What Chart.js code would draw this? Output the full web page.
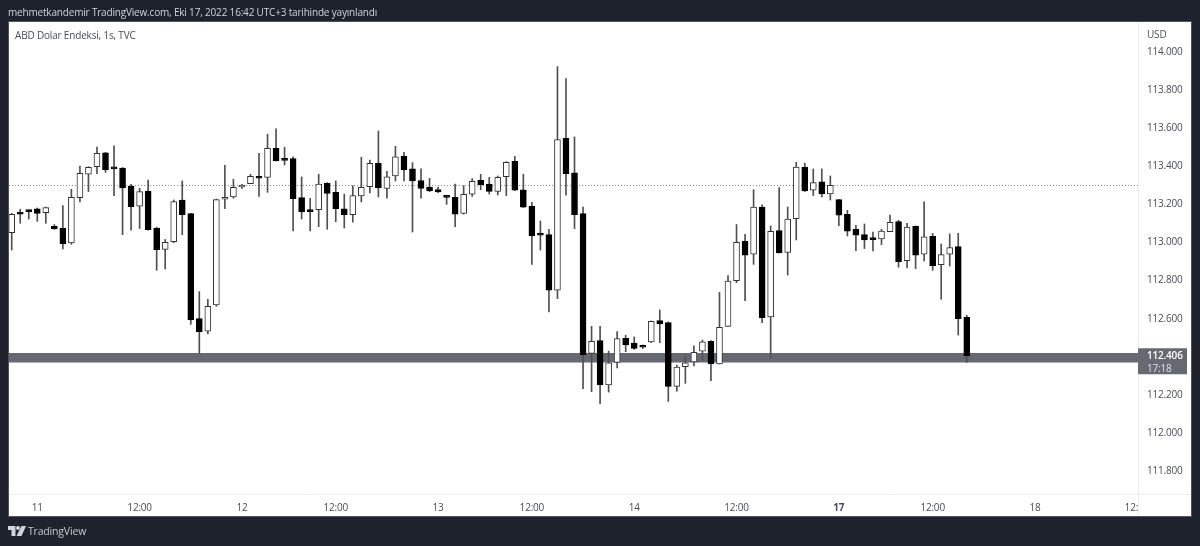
<!DOCTYPE html>
<html><head><meta charset="utf-8">
<script src="https://cdn.jsdelivr.net/npm/chart.js@4"></script>
<style>
html,body{margin:0;padding:0;background:#1e222d;width:1200px;height:546px;overflow:hidden}
#panel{position:absolute;left:9px;top:22px;width:1182px;height:494px;background:#fff;box-shadow:0 0 0 1px #50535e}
canvas{position:absolute;left:0;top:0}
.t{position:absolute;white-space:nowrap;font-family:"Open Sans",sans-serif;letter-spacing:-0.18px}
</style></head><body>
<div id="panel"></div>
<canvas id="c" width="1200" height="546"></canvas>
<div class="t" style="left:8px;top:5px;font-size:10px;color:#d1d4dc">mehmetkandemir TradingView.com, Eki 17, 2022 16:42 UTC+3 tarihinde yayınlandı</div>
<div class="t" style="left:15px;top:28px;font-size:10px;color:#4a4d57">ABD Dolar Endeksi, 1s, TVC</div>
<div class="t" style="left:1147px;top:27px;font-size:10px;color:#4a4d57">USD</div>
<svg style="position:absolute;left:8px;top:526px" width="18" height="11" viewBox="0 0 36 22"><path fill="#d1d4dc" d="M0 0H15V20H7V8H0Z"/><circle cx="20" cy="4" r="4" fill="#d1d4dc"/><path fill="#d1d4dc" d="M27 0H36L27 20H17Z"/></svg>
<div class="t" style="left:28px;top:524px;font-size:10.5px;color:#c8cad0">TradingView</div>
<script>
const opens=[113.051,113.160,113.167,113.176,113.157,113.085,113.074,112.997,113.235,113.358,113.398,113.470,113.389,113.391,113.295,113.191,113.270,113.076,112.964,113.004,113.223,113.151,112.600,112.535,112.672,113.227,113.239,113.291,113.309,113.345,113.342,113.494,113.436,113.440,113.235,113.169,113.172,113.311,113.263,113.176,113.146,113.244,113.293,113.415,113.283,113.349,113.454,113.387,113.325,113.291,113.277,113.239,113.237,113.153,113.253,113.326,113.307,113.268,113.345,113.426,113.276,113.190,113.041,113.041,112.750,113.547,113.366,113.151,112.418,112.485,112.252,112.371,112.497,112.472,112.457,112.478,112.590,112.579,112.245,112.348,112.373,112.429,112.481,112.362,112.560,112.800,113.006,112.938,113.186,112.609,113.062,112.948,113.125,113.395,113.274,113.318,113.255,113.225,113.148,113.069,113.041,113.020,113.018,113.057,113.109,112.905,113.085,112.938,113.032,112.884,112.938,112.978,112.607];
const highs=[113.153,113.174,113.170,113.181,113.186,113.094,113.193,113.279,113.401,113.398,113.500,113.473,113.507,113.393,113.305,113.284,113.328,113.080,113.016,113.223,113.323,113.153,112.742,112.702,113.228,113.405,113.331,113.305,113.358,113.468,113.568,113.596,113.500,113.450,113.344,113.232,113.358,113.314,113.323,113.254,113.298,113.447,113.433,113.585,113.373,113.505,113.473,113.419,113.387,113.337,113.291,113.239,113.307,113.298,113.335,113.358,113.342,113.349,113.424,113.452,113.358,113.211,113.113,113.069,113.923,113.860,113.554,113.186,112.560,112.560,112.430,112.532,112.513,112.504,112.462,112.588,112.646,112.583,112.357,112.399,112.458,112.488,112.485,112.738,112.826,113.094,113.043,113.277,113.197,113.087,113.288,113.186,113.421,113.416,113.386,113.386,113.349,113.227,113.169,113.090,113.097,113.055,113.069,113.144,113.116,113.101,113.087,113.213,113.048,112.992,113.045,113.048,112.618];
const lows=[112.960,113.101,113.123,113.111,113.101,113.069,112.966,112.990,113.213,113.267,113.361,113.368,113.246,113.041,113.065,113.073,113.065,112.854,112.861,112.999,113.041,112.570,112.418,112.520,112.665,113.178,113.232,113.283,113.309,113.242,113.263,113.428,113.407,113.060,113.123,113.060,113.083,113.069,113.109,113.076,113.107,113.213,113.260,113.239,113.232,113.323,113.323,113.055,113.232,113.267,113.261,113.200,113.083,113.149,113.242,113.277,113.254,113.249,113.246,113.272,113.183,112.885,112.960,112.635,112.705,113.248,113.073,112.233,112.217,112.154,112.215,112.341,112.427,112.439,112.443,112.474,112.474,112.166,112.219,112.261,112.352,112.383,112.275,112.362,112.560,112.789,112.695,112.885,112.579,112.392,112.945,112.829,113.013,113.267,113.246,113.239,113.223,113.088,113.034,112.957,112.968,112.955,112.989,113.057,112.870,112.866,112.863,112.903,112.854,112.702,112.876,112.514,112.371];
const closes=[113.148,113.149,113.162,113.153,113.183,113.071,112.994,113.237,113.363,113.394,113.468,113.382,113.386,113.286,113.188,113.267,113.067,112.962,113.001,113.214,113.146,112.593,112.532,112.665,113.225,113.237,113.289,113.295,113.347,113.337,113.494,113.428,113.431,113.230,113.160,113.162,113.307,113.258,113.178,113.146,113.246,113.289,113.415,113.286,113.345,113.450,113.381,113.323,113.284,113.270,113.265,113.237,113.149,113.253,113.321,113.302,113.268,113.342,113.421,113.274,113.185,113.034,113.038,112.750,113.540,113.361,113.146,112.411,112.481,112.252,112.369,112.495,112.462,112.444,112.450,112.586,112.572,112.245,112.346,112.369,112.423,112.478,112.362,112.555,112.798,113.001,112.934,113.186,112.605,113.059,112.945,113.123,113.395,113.270,113.314,113.255,113.300,113.143,113.059,113.038,113.013,113.015,113.060,113.106,112.899,113.081,112.934,113.029,112.878,112.936,112.973,112.600,112.406];
const priceLabels=[111.8,112.0,112.2,112.6,112.8,113.0,113.2,113.4,113.6,113.8,114.0];
const timeTickIndex=[3,15,27,38,50,61,73,85,97,108,120,131.3];
const timeTickLabels=['11','12:00','12','12:00','13','12:00','14','12:00','17','12:00','18','12:'];
const previousClose=113.30, lastPrice=112.406, bandTop=112.42, bandBottom=112.37;
const lastLabel='112.406', countdown='17:18';

const FONT='"Open Sans",sans-serif';
const idx=opens.map((_,i)=>i);
const overlay={id:'overlay',
 beforeDraw(ch){ch.ctx.letterSpacing='-0.2px';},
 beforeDatasetsDraw(ch){const {ctx,chartArea:a,scales:{y}}=ch;ctx.save();
  const t=y.getPixelForValue(bandTop),b=y.getPixelForValue(bandBottom);
  ctx.fillStyle='#666972';ctx.fillRect(a.left,t,a.right-a.left,b-t);
  const p=Math.round(y.getPixelForValue(previousClose))+.5;
  ctx.strokeStyle='#8a8d94';ctx.lineWidth=1;ctx.setLineDash([1,2]);
  ctx.beginPath();ctx.moveTo(a.left,p);ctx.lineTo(a.right,p);ctx.stroke();ctx.restore();},
 afterDraw(ch){const {ctx,chartArea:a,scales:{y}}=ch;ctx.save();
  const m=(y.getPixelForValue(bandTop)+y.getPixelForValue(bandBottom))/2;
  ctx.fillStyle='#666972';ctx.fillRect(a.right,m-9.5,49,26);
  ctx.textBaseline='middle';ctx.textAlign='left';
  ctx.font='600 10px '+FONT;ctx.fillStyle='#fff';ctx.fillText(lastLabel,a.right+9,m-1.5);
  ctx.font='10px '+FONT;ctx.fillStyle='#e0e2e8';ctx.fillText(countdown,a.right+9,m+11);
  ctx.strokeStyle='#eceef2';ctx.lineWidth=1;
  ctx.beginPath();ctx.moveTo(a.right+.5,a.top);ctx.lineTo(a.right+.5,m-9.5);ctx.moveTo(a.right+.5,m+16.5);ctx.lineTo(a.right+.5,a.bottom+22);
  ctx.moveTo(a.left,a.bottom+.5);ctx.lineTo(a.right+53,a.bottom+.5);ctx.stroke();ctx.restore();}
};
new Chart(document.getElementById('c'),{
 type:'bar',
 data:{datasets:[
  {label:'wick',data:idx.map(i=>({x:i,y:[lows[i],highs[i]]})),backgroundColor:'#505050',barThickness:1,grouped:false,order:2},
  {label:'body',data:idx.map(i=>({x:i,y:[opens[i],closes[i]]})),
   backgroundColor:idx.map(i=>closes[i]>=opens[i]?'#ffffff':'#000000'),
   borderColor:idx.map(i=>closes[i]>=opens[i]?'#333333':'#000000'),
   borderWidth:1,borderSkipped:false,barThickness:6,minBarLength:2,grouped:false,order:1}
 ]},
 plugins:[overlay],
 options:{responsive:false,animation:false,devicePixelRatio:1,
  layout:{padding:{left:9,top:22,right:9,bottom:30}},
  plugins:{legend:{display:false},title:{display:false},tooltip:{enabled:false}},
  scales:{
   x:{type:'linear',min:-0.317,max:132.08,grid:{display:false},border:{display:false},offset:false,
    afterBuildTicks(s){s.ticks=timeTickIndex.map(v=>({value:v}));},
    afterFit(s){s.height=22;},
    ticks:{autoSkip:false,maxRotation:0,minRotation:0,padding:0,color:'#4a4d57',
     font:c=>({family:FONT,size:10,weight:c.index===8?'bold':'normal'}),
     callback:(v,i)=>timeTickLabels[i]}},
   y:{type:'linear',position:'right',min:111.68,max:114.157,grid:{display:false,drawTicks:false},border:{display:false},
    afterBuildTicks(s){s.ticks=priceLabels.map(v=>({value:v}));},
    afterFit(s){s.width=53;},
    ticks:{padding:9,color:'#4a4d57',font:{family:FONT,size:10},autoSkip:false,callback:v=>v.toFixed(3)}}
  }}
});
</script>
</body></html>
